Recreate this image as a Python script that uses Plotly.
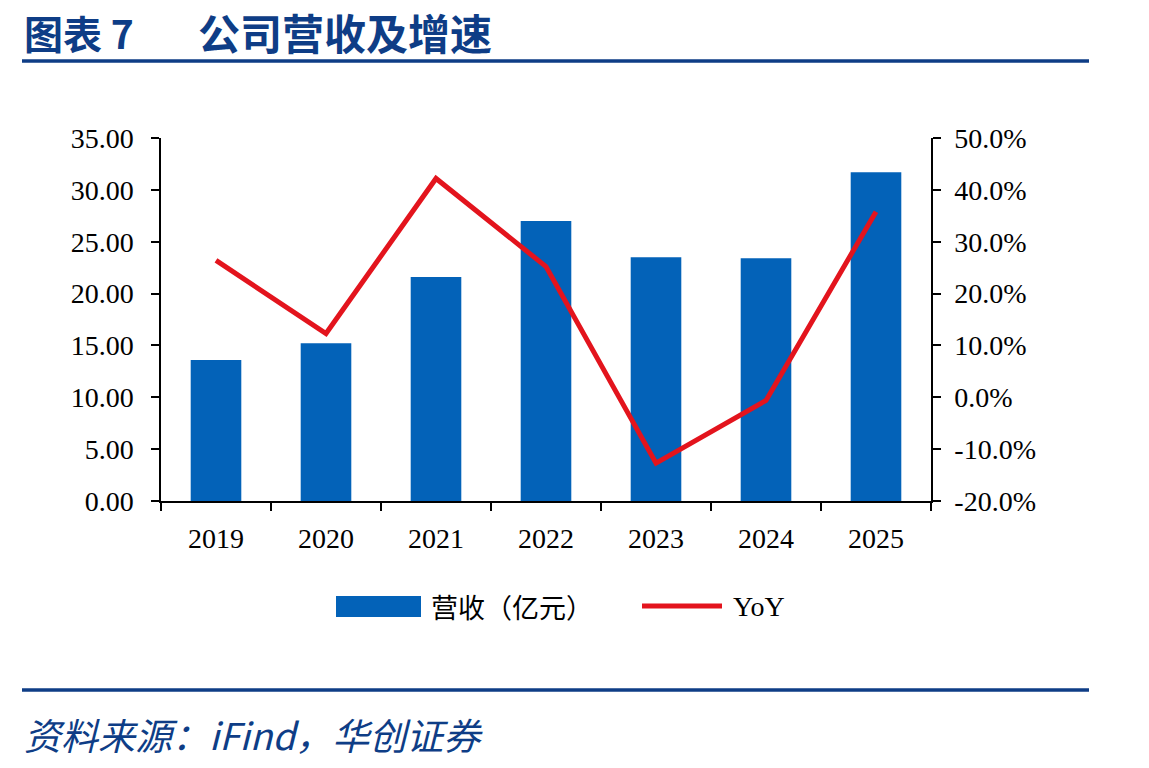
import plotly.graph_objects as go

years = ["2019", "2020", "2021", "2022", "2023", "2024", "2025"]
revenue = [13.6, 15.2, 21.6, 27.0, 23.5, 23.4, 31.7]
yoy = [26.4, 12.3, 42.2, 25.2, -12.7, -0.6, 35.8]
left_ticks = [0, 5, 10, 15, 20, 25, 30, 35]
right_ticks = [-20, -10, 0, 10, 20, 30, 40, 50]

BLUE = "#0362b8"
RED = "#e3141d"
NAVY = "#0e3d86"
W, H = 1149, 768
L, R, T, B = 161, 931, 138, 501


def px(x):
    return (x - L) / (R - L)


def py(y):
    return (B - y) / (B - T)


fig = go.Figure()
fig.add_trace(go.Bar(x=years, y=revenue, name="营收（亿元）", marker=dict(color=BLUE, line=dict(width=0)),
                     width=0.46, yaxis="y"))
fig.add_trace(go.Scatter(x=years, y=yoy, name="YoY", mode="lines", line=dict(color=RED, width=5),
                         yaxis="y2"))

tickfont = dict(family="Liberation Serif, Times New Roman, serif", size=28, color="#000")

left_text = [f"{v:.2f}" for v in left_ticks]
right_text = [f"{v:.1f}%" for v in right_ticks]

fig.update_layout(
    width=W, height=H,
    margin=dict(l=L, r=W - R, t=T, b=H - B, pad=0),
    paper_bgcolor="white", plot_bgcolor="white",
    showlegend=False,
    bargap=0.54,
    xaxis=dict(type="category", showline=True, linecolor="#000", linewidth=1.5,
               ticks="outside", ticklen=8, tickcolor="#000", tickwidth=1.5, tickson="boundaries",
               tickfont=tickfont, showgrid=False, zeroline=False, ticklabelstandoff=12),
    yaxis=dict(range=[0, 35], tickvals=left_ticks, ticktext=left_text, showline=True, linecolor="#000",
               linewidth=1.5, ticks="outside", ticklen=8, tickcolor="#000", tickwidth=1.5,
               tickfont=tickfont, showgrid=False, zeroline=False, ticklabelstandoff=12),
    yaxis2=dict(range=[-20, 50], tickvals=right_ticks, ticktext=right_text,
                overlaying="y", side="right", showline=True, linecolor="#000", linewidth=1.5,
                ticks="outside", ticklen=8, tickcolor="#000", tickwidth=1.5,
                tickfont=tickfont, showgrid=False, zeroline=False, ticklabelstandoff=8),
)

shapes = []
annotations = []
# header & footer rules
for yy in (61, 690):
    shapes.append(dict(type="line", xref="paper", yref="paper", x0=px(22), x1=px(1089),
                       y0=py(yy), y1=py(yy), line=dict(color=NAVY, width=3.5)))

cjk = "Noto Sans CJK SC, sans-serif"
annotations.append(dict(text="<b>图表 7</b>", x=px(22), y=py(32), xref="paper", yref="paper",
                        xanchor="left", yanchor="middle", showarrow=False,
                        font=dict(family=cjk, size=39, color=NAVY)))
annotations.append(dict(text="<b>公司营收及增速</b>", x=px(196), y=py(32), xref="paper", yref="paper",
                        xanchor="left", yanchor="middle", showarrow=False,
                        font=dict(family=cjk, size=42, color=NAVY)))
annotations.append(dict(text="<i>资料来源：iFind，华创证券</i>", x=px(22), y=py(734), xref="paper",
                        yref="paper", xanchor="left", yanchor="middle", showarrow=False,
                        font=dict(family=cjk, size=37, color=NAVY)))

# manual legend
shapes.append(dict(type="rect", xref="paper", yref="paper", x0=px(336), x1=px(421), y0=py(617), y1=py(596),
                   fillcolor=BLUE, line=dict(width=0)))
shapes.append(dict(type="line", xref="paper", yref="paper", x0=px(642), x1=px(722), y0=py(606), y1=py(606),
                   line=dict(color=RED, width=5)))
annotations.append(dict(text="营收（亿元）", x=px(429), y=py(606), xref="paper", yref="paper",
                        xanchor="left", yanchor="middle", showarrow=False,
                        font=dict(family=cjk, size=27, color="#000")))
annotations.append(dict(text="YoY", x=px(731), y=py(606), xref="paper", yref="paper",
                        xanchor="left", yanchor="middle", showarrow=False, font=tickfont))

fig.update_layout(shapes=shapes, annotations=annotations)
fig.write_html("out.html")
